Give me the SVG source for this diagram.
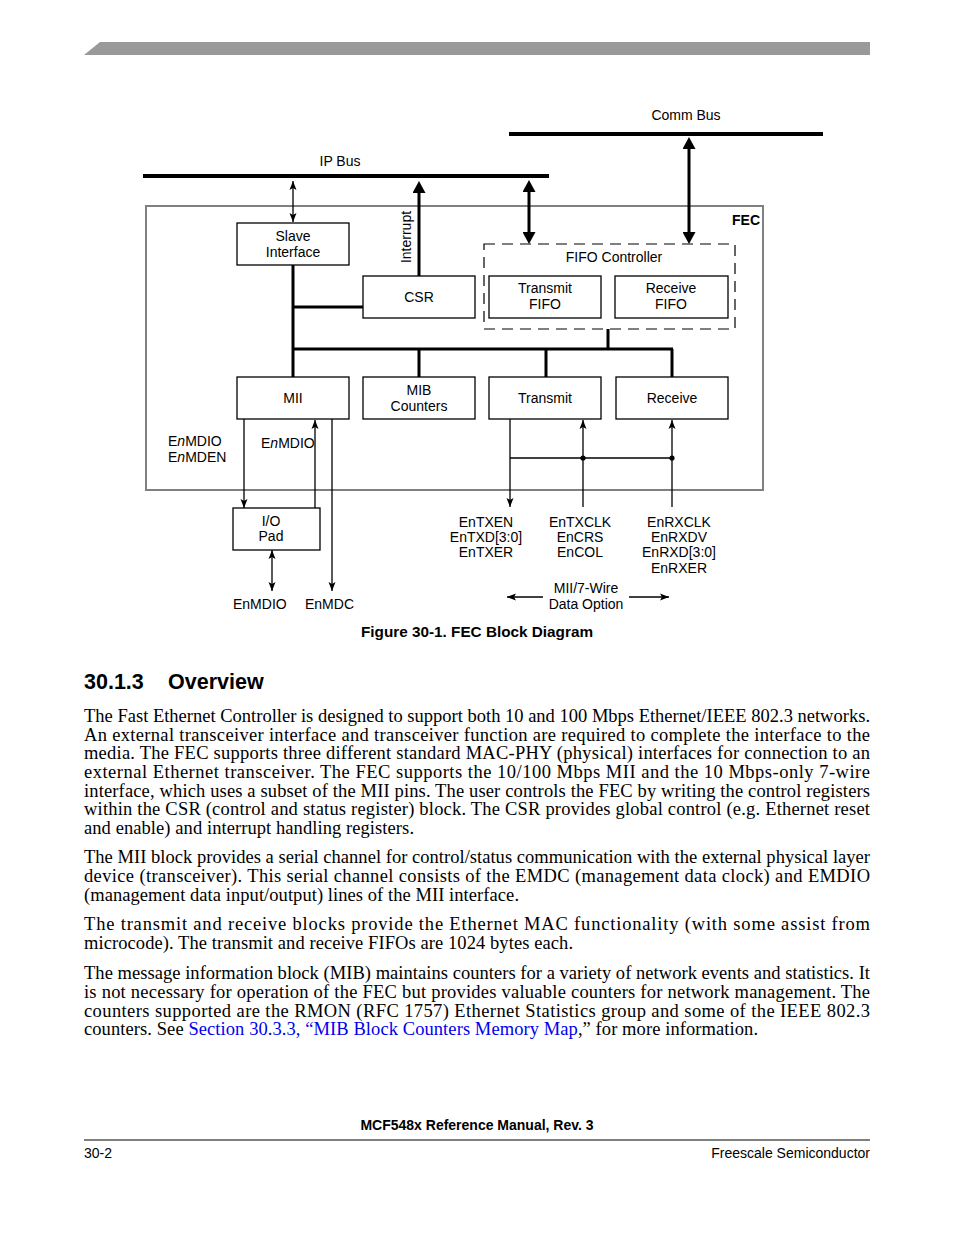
<svg xmlns="http://www.w3.org/2000/svg" width="954" height="1235" viewBox="0 0 954 1235">
<style>
.s{font-family:"Liberation Sans",Arial,sans-serif;font-size:14px;fill:#000}
.c{text-anchor:middle}
.b{font-weight:bold}
.box{fill:#fff;stroke:#000;stroke-width:1.3}
.thin{fill:none;stroke:#000;stroke-width:1.3}
.thick{fill:none;stroke:#000;stroke-width:3}
.bus{fill:none;stroke:#000;stroke-width:4}
.t{font-family:"Liberation Serif","Times New Roman",serif;font-size:18.5px;fill:#000}
.link{fill:#0000ee}
</style>
<defs>
<marker id="a" markerUnits="userSpaceOnUse" markerWidth="10" markerHeight="8" refX="9" refY="4" orient="auto-start-reverse"><path d="M0,0.5 L9,4 L0,7.5 L2,4 z" fill="#000"/></marker>
<marker id="A" markerUnits="userSpaceOnUse" markerWidth="13" markerHeight="13" refX="7" refY="6.5" orient="auto-start-reverse"><path d="M0,0 L12,6.5 L0,13 z" fill="#000"/></marker>
</defs>
<rect width="954" height="1235" fill="#fff"/>
<polygon points="84,55 100,42 870,42 870,55" fill="#999"/>

<g id="buses">
<line class="bus" x1="143" y1="176" x2="549" y2="176"/>
<text class="s c" x="340" y="166">IP Bus</text>
<line class="bus" x1="509" y1="134" x2="823" y2="134"/>
<text class="s c" x="686" y="120">Comm Bus</text>
</g>

<g id="fec">
<rect x="146" y="206" width="617" height="284" fill="none" stroke="#808080" stroke-width="2"/>
<text class="s b" x="760" y="225" text-anchor="end">FEC</text>
</g>

<g id="fifo-controller">
<rect x="484" y="244" width="251" height="85" fill="none" stroke="#000" stroke-width="1.2" stroke-dasharray="11,7"/>
<text class="s c" x="614" y="262">FIFO Controller</text>
</g>

<g id="connectors">
<path class="thick" d="M293,265 V377 M293,307 H363 M293,349 H673 M419,349 V377 M546,349 V377 M672,349 V377 M608,329 V349"/>
<line class="thick" x1="419" y1="276" x2="419" y2="186" marker-end="url(#A)"/>
<line class="thick" x1="529" y1="185" x2="529" y2="239" marker-start="url(#A)" marker-end="url(#A)"/>
<line class="thick" x1="689" y1="142" x2="689" y2="239" marker-start="url(#A)" marker-end="url(#A)"/>
<line class="thin" x1="293" y1="181" x2="293" y2="222" marker-start="url(#a)" marker-end="url(#a)"/>
<line class="thin" x1="244" y1="419" x2="244" y2="508" marker-end="url(#a)"/>
<line class="thin" x1="315" y1="508" x2="315" y2="420" marker-end="url(#a)"/>
<line class="thin" x1="332" y1="419" x2="332" y2="591" marker-end="url(#a)"/>
<line class="thin" x1="272" y1="550" x2="272" y2="591" marker-start="url(#a)" marker-end="url(#a)"/>
<line class="thin" x1="510" y1="419" x2="510" y2="507" marker-end="url(#a)"/>
<line class="thin" x1="583" y1="507" x2="583" y2="420" marker-end="url(#a)"/>
<line class="thin" x1="672" y1="507" x2="672" y2="420" marker-end="url(#a)"/>
<line class="thin" x1="510" y1="458" x2="672" y2="458"/>
<circle cx="583" cy="458" r="2.6" fill="#000"/>
<circle cx="672" cy="458" r="2.6" fill="#000"/>
<line class="thin" x1="543" y1="597" x2="507" y2="597" marker-end="url(#a)"/>
<line class="thin" x1="629" y1="597" x2="669" y2="597" marker-end="url(#a)"/>
<text class="s c" transform="translate(411,237) rotate(-90)">Interrupt</text>
</g>

<g id="slave-interface">
<rect class="box" x="237" y="223" width="112" height="42"/>
<text class="s c" x="293" y="241">Slave</text>
<text class="s c" x="293" y="257">Interface</text>
</g>
<g id="csr">
<rect class="box" x="363" y="276" width="112" height="42"/>
<text class="s c" x="419" y="302">CSR</text>
</g>
<g id="transmit-fifo">
<rect class="box" x="489" y="276" width="112" height="42"/>
<text class="s c" x="545" y="293">Transmit</text>
<text class="s c" x="545" y="309">FIFO</text>
</g>
<g id="receive-fifo">
<rect class="box" x="615" y="276" width="113" height="42"/>
<text class="s c" x="671" y="293">Receive</text>
<text class="s c" x="671" y="309">FIFO</text>
</g>
<g id="mii">
<rect class="box" x="237" y="377" width="112" height="42"/>
<text class="s c" x="293" y="403">MII</text>
</g>
<g id="mib-counters">
<rect class="box" x="363" y="377" width="112" height="42"/>
<text class="s c" x="419" y="395">MIB</text>
<text class="s c" x="419" y="411">Counters</text>
</g>
<g id="transmit">
<rect class="box" x="489" y="377" width="112" height="42"/>
<text class="s c" x="545" y="403">Transmit</text>
</g>
<g id="receive">
<rect class="box" x="616" y="377" width="112" height="42"/>
<text class="s c" x="672" y="403">Receive</text>
</g>
<g id="io-pad">
<rect class="box" x="233" y="508" width="87" height="42"/>
<text class="s c" x="271" y="526">I/O</text>
<text class="s c" x="271" y="541">Pad</text>
</g>

<g id="signal-labels">
<text class="s" x="168" y="446">E<tspan font-style="italic">n</tspan>MDIO</text>
<text class="s" x="168" y="462">E<tspan font-style="italic">n</tspan>MDEN</text>
<text class="s" x="261" y="448">E<tspan font-style="italic">n</tspan>MDIO</text>
<text class="s" x="233" y="609">EnMDIO</text>
<text class="s" x="305" y="609">EnMDC</text>
<text class="s c" x="486" y="527">EnTXEN</text>
<text class="s c" x="486" y="542">EnTXD[3:0]</text>
<text class="s c" x="486" y="557">EnTXER</text>
<text class="s c" x="580" y="527">EnTXCLK</text>
<text class="s c" x="580" y="542">EnCRS</text>
<text class="s c" x="580" y="557">EnCOL</text>
<text class="s c" x="679" y="527">EnRXCLK</text>
<text class="s c" x="679" y="542">EnRXDV</text>
<text class="s c" x="679" y="557">EnRXD[3:0]</text>
<text class="s c" x="679" y="573">EnRXER</text>
<text class="s c" x="586" y="593">MII/7-Wire</text>
<text class="s c" x="586" y="609">Data Option</text>
</g>

<text class="s b c" x="477" y="637" style="font-size:15.3px">Figure 30-1. FEC Block Diagram</text>

<text class="s b" x="84" y="689" style="font-size:21.5px">30.1.3</text>
<text class="s b" x="168" y="689" style="font-size:21.5px">Overview</text>

<g id="body">
<text class="t" x="84" y="722" textLength="786" lengthAdjust="spacing">The Fast Ethernet Controller is designed to support both 10 and 100 Mbps Ethernet/IEEE 802.3 networks.</text>
<text class="t" x="84" y="741" textLength="786" lengthAdjust="spacing">An external transceiver interface and transceiver function are required to complete the interface to the</text>
<text class="t" x="84" y="759" textLength="786" lengthAdjust="spacing">media. The FEC supports three different standard MAC-PHY (physical) interfaces for connection to an</text>
<text class="t" x="84" y="778" textLength="786" lengthAdjust="spacing">external Ethernet transceiver. The FEC supports the 10/100 Mbps MII and the 10 Mbps-only 7-wire</text>
<text class="t" x="84" y="797" textLength="786" lengthAdjust="spacing">interface, which uses a subset of the MII pins. The user controls the FEC by writing the control registers</text>
<text class="t" x="84" y="815" textLength="786" lengthAdjust="spacing">within the CSR (control and status register) block. The CSR provides global control (e.g. Ethernet reset</text>
<text class="t" x="84" y="834" textLength="330" lengthAdjust="spacing">and enable) and interrupt handling registers.</text>

<text class="t" x="84" y="863" textLength="786" lengthAdjust="spacing">The MII block provides a serial channel for control/status communication with the external physical layer</text>
<text class="t" x="84" y="882" textLength="786" lengthAdjust="spacing">device (transceiver). This serial channel consists of the EMDC (management data clock) and EMDIO</text>
<text class="t" x="84" y="901" textLength="435" lengthAdjust="spacing">(management data input/output) lines of the MII interface.</text>

<text class="t" x="84" y="930" textLength="786" lengthAdjust="spacing">The transmit and receive blocks provide the Ethernet MAC functionality (with some assist from</text>
<text class="t" x="84" y="949" textLength="489" lengthAdjust="spacing">microcode). The transmit and receive FIFOs are 1024 bytes each.</text>

<text class="t" x="84" y="979" textLength="786" lengthAdjust="spacing">The message information block (MIB) maintains counters for a variety of network events and statistics. It</text>
<text class="t" x="84" y="998" textLength="786" lengthAdjust="spacing">is not necessary for operation of the FEC but provides valuable counters for network management. The</text>
<text class="t" x="84" y="1017" textLength="786" lengthAdjust="spacing">counters supported are the RMON (RFC 1757) Ethernet Statistics group and some of the IEEE 802.3</text>
<text class="t" x="84" y="1035" textLength="674" lengthAdjust="spacing">counters. See <tspan class="link">Section 30.3.3, “MIB Block Counters Memory Map</tspan>,” for more information.</text>
</g>

<g id="footer">
<text class="s b c" x="477" y="1130" style="font-size:14px">MCF548x Reference Manual, Rev. 3</text>
<line x1="84" y1="1140" x2="870" y2="1140" stroke="#000" stroke-width="1"/>
<text class="s" x="84" y="1158" style="font-size:14px">30-2</text>
<text class="s" x="870" y="1158" text-anchor="end" style="font-size:14px">Freescale Semiconductor</text>
</g>
</svg>
